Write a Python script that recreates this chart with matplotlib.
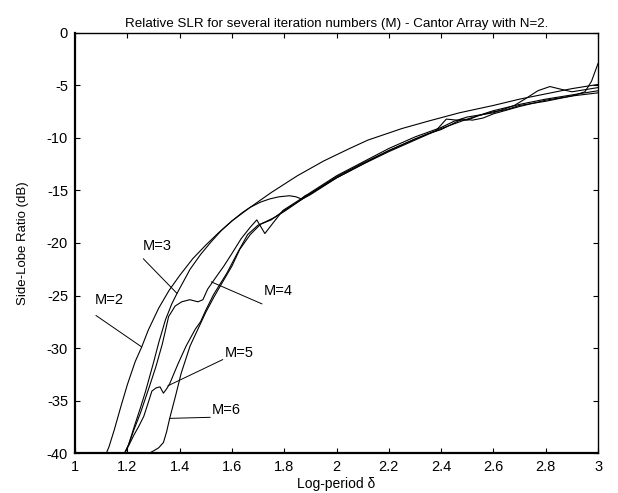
import matplotlib
matplotlib.use('Agg')
import matplotlib.pyplot as plt

plt.rcParams['font.family'] = ['Liberation Sans', 'DejaVu Sans']
plt.rcParams['axes.unicode_minus'] = False

# log-period delta vs side-lobe ratio (dB)
x_m2 = [1.00, 1.12, 1.13, 1.15, 1.175, 1.20, 1.23, 1.255, 1.28, 1.32, 1.36, 1.40, 1.45, 1.50, 1.55,
        1.60, 1.67, 1.75, 1.85, 1.95, 2.05, 2.12, 2.25, 2.35, 2.47, 2.60, 2.70, 2.80, 2.90, 3.00]
y_m2 = [-40, -40, -39.4, -37.8, -35.6, -33.5, -31.3, -29.9, -28.3, -26.2, -24.5, -23.1, -21.5, -20.2, -19.0,
        -17.9, -16.6, -15.2, -13.6, -12.2, -11.0, -10.2, -9.1, -8.4, -7.6, -6.9, -6.3, -5.8, -5.3, -4.9]

x_m3 = [1.00, 1.19, 1.205, 1.225, 1.25, 1.27, 1.30, 1.32, 1.346, 1.37, 1.39, 1.44, 1.48, 1.52, 1.56,
        1.60, 1.64, 1.67, 1.71, 1.745, 1.78, 1.82, 1.845, 1.865, 1.88, 1.90, 2.00, 2.10, 2.20, 2.30,
        2.38, 2.42, 2.46, 2.50, 2.54, 2.60, 2.65, 2.70, 2.80, 2.90, 3.00]
y_m3 = [-40, -40, -39.2, -37.6, -35.7, -34.1, -31.4, -29.5, -27.3, -25.8, -24.8, -22.5, -21.1, -19.9, -18.8,
        -17.9, -17.1, -16.6, -16.1, -15.8, -15.6, -15.5, -15.6, -15.8, -15.5, -15.3, -13.8, -12.5, -11.2, -10.1,
        -9.3, -8.2, -8.3, -8.3, -7.9, -7.5, -7.3, -6.9, -6.5, -6.0, -5.7]

x_m4 = [1.00, 1.19, 1.205, 1.225, 1.25, 1.284, 1.309, 1.334, 1.358, 1.383, 1.408, 1.439, 1.47, 1.489,
        1.507, 1.532, 1.569, 1.60, 1.635, 1.67, 1.695, 1.726, 1.757, 1.795, 1.87, 1.90, 2.00, 2.10,
        2.20, 2.30, 2.40, 2.45, 2.50, 2.55, 2.60, 2.68, 2.72, 2.77, 2.816, 2.865, 2.90, 2.95, 3.00]
y_m4 = [-40, -40, -39.2, -37.8, -36.2, -33.7, -31.8, -29.6, -27.0, -26.0, -25.6, -25.4, -25.6, -25.4,
        -24.4, -23.5, -22.2, -21.0, -19.6, -18.5, -17.8, -19.1, -18.1, -16.9, -15.7, -15.2, -13.6, -12.3,
        -11.0, -9.9, -9.0, -8.4, -8.0, -7.8, -7.6, -6.9, -6.3, -5.5, -5.1, -5.4, -5.6, -5.4, -5.2]

x_m5 = [1.00, 1.19, 1.205, 1.225, 1.245, 1.263, 1.28, 1.294, 1.31, 1.325, 1.338, 1.35, 1.362, 1.394,
        1.425, 1.46, 1.48, 1.50, 1.53, 1.58, 1.62, 1.66, 1.70, 1.75, 1.80, 1.87, 1.90, 2.00, 2.10,
        2.20, 2.30, 2.35, 2.40, 2.44, 2.48, 2.52, 2.56, 2.60, 2.70, 2.80, 2.90, 2.95, 2.975, 3.00]
y_m5 = [-40, -40, -39.3, -38.3, -37.4, -36.5, -35.2, -34.1, -33.8, -33.7, -34.3, -33.9, -33.4, -31.5,
        -29.8, -28.2, -27.5, -26.4, -24.9, -22.9, -21.0, -19.2, -18.3, -17.8, -16.9, -15.8, -15.3, -13.7, -12.4,
        -11.2, -10.1, -9.6, -9.2, -8.7, -8.2, -8.3, -8.1, -7.7, -7.0, -6.4, -6.0, -5.6, -4.6, -2.9]

x_m6 = [1.00, 1.285, 1.30, 1.32, 1.338, 1.35, 1.362, 1.385, 1.406, 1.44, 1.47, 1.50, 1.53, 1.56,
        1.60, 1.63, 1.67, 1.71, 1.76, 1.80, 1.87, 1.90, 2.00, 2.10, 2.20, 2.30, 2.40, 2.50, 2.60,
        2.70, 2.80, 2.90, 3.00]
y_m6 = [-40, -40, -39.8, -39.5, -39.0, -38.0, -36.7, -34.5, -32.4, -29.8, -28.2, -26.6, -25.2, -23.9,
        -22.2, -20.6, -19.2, -18.2, -17.6, -17.0, -15.8, -15.4, -13.8, -12.5, -11.3, -10.2, -9.1, -8.2, -7.4,
        -6.8, -6.3, -5.9, -5.5]

labels = ['M=2', 'M=3', 'M=4', 'M=5', 'M=6']

fig = plt.figure(figsize=(6.18, 4.93), dpi=100)
ax = fig.add_axes([0.1214, 0.0811, 0.8463, 0.852])

for xs, ys in [(x_m2, y_m2), (x_m3, y_m3), (x_m4, y_m4), (x_m5, y_m5), (x_m6, y_m6)]:
    ax.plot(xs, ys, color='black', lw=0.8)

# label text position, leader start, leader end (on the curve)
label_pos = [(1.075, -25.4), (1.26, -20.3), (1.72, -24.6), (1.572, -30.5), (1.524, -35.9)]
leader_from = [(1.08, -26.9), (1.261, -21.5), (1.715, -25.8), (1.565, -31.1), (1.517, -36.6)]
leader_to = [(1.255, -29.9), (1.39, -24.8), (1.521, -23.7), (1.355, -33.6), (1.362, -36.7)]

for lab, tp, a, b in zip(labels, label_pos, leader_from, leader_to):
    ax.text(tp[0], tp[1], lab, fontsize=10.5, ha='left', va='center')
    ax.annotate('', xy=b, xytext=a,
                arrowprops=dict(arrowstyle='-', lw=0.7, color='black', shrinkA=0, shrinkB=0))

ax.set_xlim(1, 3)
ax.set_ylim(-40, 0)
ax.set_xticks([1, 1.2, 1.4, 1.6, 1.8, 2, 2.2, 2.4, 2.6, 2.8, 3])
ax.set_xticklabels(['1', '1.2', '1.4', '1.6', '1.8', '2', '2.2', '2.4', '2.6', '2.8', '3'])
ax.set_yticks(range(-40, 1, 5))
ax.tick_params(direction='in', top=True, right=True, length=3.6, labelsize=10.5, pad=5)
for s in ax.spines.values():
    s.set_linewidth(1.0)
ax.spines['left'].set_linewidth(1.6)
ax.spines['bottom'].set_linewidth(1.6)

ax.set_xlabel('Log-period δ', fontsize=10, labelpad=2)
ax.set_ylabel('Side-Lobe Ratio (dB)', fontsize=9.5)
ax.yaxis.set_label_coords(-0.088, 0.5)
ax.text(0.5, 1.0143, 'Relative SLR for several iteration numbers (M) - Cantor Array with N=2.',
        transform=ax.transAxes, ha='center', va='baseline', fontsize=9.6)

fig.savefig('out.png', dpi=100)
